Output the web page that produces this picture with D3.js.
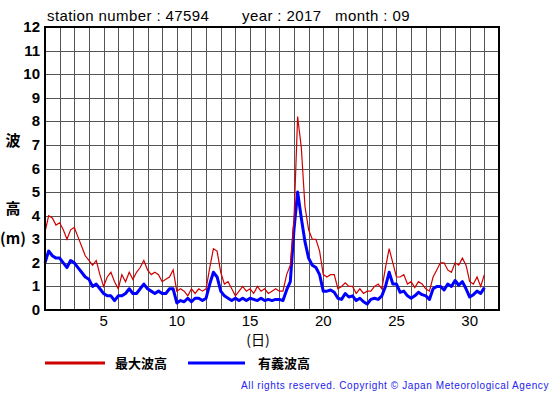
<!DOCTYPE html>
<html lang="ja">
<head>
<meta charset="utf-8">
<script src="https://d3js.org/d3.v7.min.js"></script>
<style>
body { margin: 0; background: #fff; }
text { font-family: "Liberation Sans", Arial, sans-serif; }
.jp { font-family: "Noto Sans CJK JP", sans-serif; }
</style>
</head>
<body>
<div id="chart"></div>
<script>
// 6-hourly values, day 1.00 .. 31.00
var maxWave = [
  3.3, 4.0, 3.9, 3.6, 3.7, 3.4, 3.0, 3.4,
  3.5, 3.1, 2.7, 2.3, 2.1, 1.9, 2.1, 1.5,
  1.0, 1.4, 1.6, 1.2, 0.9, 1.5, 1.2, 1.6,
  1.3, 1.6, 1.8, 2.1, 1.7, 1.5, 1.6, 1.5,
  1.2, 1.3, 1.4, 1.7, 0.8, 0.9, 0.8, 0.6,
  0.9, 0.7, 0.9, 0.8, 0.9, 1.8, 2.6, 2.5,
  1.6, 1.1, 1.2, 0.9, 0.6, 0.8, 1.0, 0.8,
  0.9, 0.7, 1.0, 0.8, 0.9, 0.7, 0.8, 0.9,
  0.8, 0.8, 1.5, 1.9, 3.8, 8.2, 6.9, 4.4,
  3.4, 3.0, 3.0, 2.5, 1.5, 1.4, 1.5, 1.5,
  0.9, 1.0, 1.15, 1.0, 1.0, 0.7, 0.9, 0.7,
  0.8, 0.8, 1.0, 1.1, 0.9, 1.8, 2.6, 2.0,
  1.4, 1.4, 1.5, 1.1, 1.2, 0.95, 1.2, 1.1,
  0.9, 0.8, 1.4, 1.7, 2.0, 2.0, 1.7, 1.6,
  2.0, 1.9, 2.2, 1.9, 1.2, 1.1, 1.4, 1.0,
  1.5
];
var sigWave = [
  2.0, 2.5, 2.3, 2.2, 2.2, 2.0, 1.8, 2.1,
  2.0, 1.8, 1.6, 1.4, 1.3, 1.0, 1.1, 0.9,
  0.7, 0.6, 0.6, 0.4, 0.6, 0.6, 0.7, 0.9,
  0.7, 0.7, 0.9, 1.1, 0.9, 0.8, 0.7, 0.8,
  0.7, 0.7, 0.9, 0.9, 0.3, 0.4, 0.35, 0.5,
  0.35, 0.5, 0.5, 0.4, 0.5, 1.1, 1.6, 1.4,
  0.8, 0.6, 0.5, 0.4, 0.5, 0.4, 0.5, 0.4,
  0.5, 0.45, 0.4, 0.5, 0.4, 0.45, 0.4, 0.45,
  0.45, 0.4, 0.85, 1.2, 3.4, 5.0, 3.9, 2.9,
  2.2, 1.9, 1.8, 1.5, 0.8, 0.8, 0.85, 0.75,
  0.5, 0.45, 0.7, 0.55, 0.6, 0.4, 0.5, 0.35,
  0.25, 0.45, 0.5, 0.45, 0.6, 1.0, 1.6, 1.1,
  1.1, 0.75, 0.8, 0.6, 0.5, 0.6, 0.75, 0.65,
  0.6, 0.45, 0.9, 1.0, 1.0, 0.85, 1.1, 1.0,
  1.25, 1.05, 1.2, 0.9, 0.55, 0.65, 0.8, 0.7,
  0.95
];
var stepsPerDay = 4;
var yTicks = d3.range(0, 13);
var xTickDays = [5, 10, 15, 20, 25, 30];
var titleParts = ["station number : 47594", "year : 2017", "month : 09"];
var seriesNames = ["最大波高", "有義波高"];

var width = 555, height = 395;
var margin = {left: 45, top: 27, right: 56, bottom: 85};
var iw = width - margin.left - margin.right,
    ih = height - margin.top - margin.bottom;

var svg = d3.select("#chart").append("svg")
    .attr("width", width)
    .attr("height", height);

var x = d3.scaleLinear().domain([1, 32]).range([margin.left, margin.left + iw]);
var y = d3.scaleLinear().domain([0, 12]).range([margin.top + ih, margin.top]);

// grid
var g = svg.append("g");
g.selectAll(".vg").data(d3.range(2, 32)).enter().append("line")
    .attr("x1", function(d) { return Math.round(x(d)) + 0.5; })
    .attr("x2", function(d) { return Math.round(x(d)) + 0.5; })
    .attr("y1", y(12)).attr("y2", y(0))
    .attr("stroke", "#555").attr("stroke-width", 1);
g.selectAll(".hg").data(d3.range(1, 12)).enter().append("line")
    .attr("y1", function(d) { return Math.round(y(d)) + 0.5; })
    .attr("y2", function(d) { return Math.round(y(d)) + 0.5; })
    .attr("x1", x(1)).attr("x2", x(32))
    .attr("stroke", "#555").attr("stroke-width", 1);

// series
var line = d3.line()
    .x(function(d, i) { return x(1 + i / stepsPerDay); })
    .y(function(d) { return y(d); });

svg.append("path").datum(sigWave)
    .attr("d", line)
    .attr("fill", "none")
    .attr("stroke", "#0000ff")
    .attr("stroke-width", 3)
    .attr("stroke-linejoin", "round");
svg.append("path").datum(maxWave)
    .attr("d", line)
    .attr("fill", "none")
    .attr("stroke", "#d00000")
    .attr("stroke-width", 1.2);

// frame
svg.append("rect")
    .attr("x", x(1)).attr("y", y(12))
    .attr("width", x(32) - x(1)).attr("height", y(0) - y(12))
    .attr("fill", "none").attr("stroke", "#000").attr("stroke-width", 2);

// y ticks
svg.selectAll(".yl").data(yTicks).enter().append("text")
    .attr("x", 40)
    .attr("y", function(d) { return y(d) + 5; })
    .attr("text-anchor", "end")
    .attr("font-size", 15).attr("font-weight", "bold")
    .text(function(d) { return d; });

// x ticks
svg.selectAll(".xl").data(xTickDays).enter().append("text")
    .attr("x", function(d) { return x(d); })
    .attr("y", 326)
    .attr("text-anchor", "middle")
    .attr("font-size", 15)
    .text(function(d) { return d; });

// axis titles
svg.append("text").attr("class", "jp").attr("x", 13).attr("y", 146)
    .attr("text-anchor", "middle").attr("font-size", 15).attr("font-weight", "bold").text("波");
svg.append("text").attr("class", "jp").attr("x", 13).attr("y", 214)
    .attr("text-anchor", "middle").attr("font-size", 15).attr("font-weight", "bold").text("高");
svg.append("text").attr("class", "jp").attr("x", 0).attr("y", 244)
    .attr("font-size", 15).attr("font-weight", "bold").text("(m)");
svg.append("text").attr("class", "jp").attr("x", 258).attr("y", 345)
    .attr("text-anchor", "middle").attr("font-size", 14).text("(日)");

// title
svg.append("text").attr("x", 47).attr("y", 21).attr("font-size", 15).attr("letter-spacing", 0.4).text(titleParts[0]);
svg.append("text").attr("x", 242).attr("y", 21).attr("font-size", 15).attr("letter-spacing", 0.4).text(titleParts[1]);
svg.append("text").attr("x", 335).attr("y", 21).attr("font-size", 15).attr("letter-spacing", 0.4).text(titleParts[2]);

// legend
var legend = [
  {name: seriesNames[0], color: "#cc0000", x1: 45, x2: 105, tx: 115},
  {name: seriesNames[1], color: "#0000ff", x1: 188, x2: 245, tx: 258}
];
legend.forEach(function(l) {
  svg.append("line").attr("x1", l.x1).attr("x2", l.x2).attr("y1", 363).attr("y2", 363)
      .attr("stroke", l.color).attr("stroke-width", 3);
  svg.append("text").attr("class", "jp").attr("x", l.tx).attr("y", 368)
      .attr("font-size", 13).attr("font-weight", "bold").text(l.name);
});

// footer
svg.append("text").attr("x", 549).attr("y", 389)
    .attr("text-anchor", "end").attr("font-size", 10)
    .attr("letter-spacing", 0.6).attr("fill", "#2222ee")
    .text("All rights reserved. Copyright © Japan Meteorological Agency");
</script>
</body>
</html>
